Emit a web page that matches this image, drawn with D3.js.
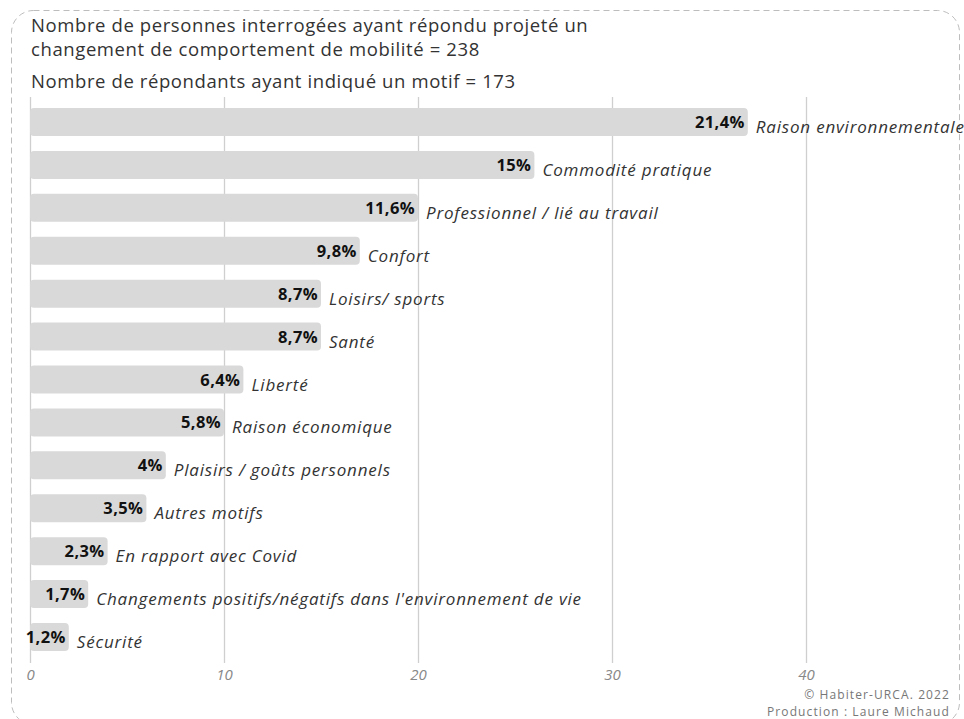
<!DOCTYPE html>
<html>
<head>
<meta charset="utf-8">
<script src="https://cdn.jsdelivr.net/npm/d3@7"></script>
<style>
  body { margin: 0; background: #fff; }
  svg { display: block; font-family: 'Open Sans', Lato, sans-serif; }
</style>
</head>
<body>
<div class="container"></div>
<script>
// motifs, du plus cité au moins cité
var categories = [
  'Raison environnementale',
  'Commodité pratique',
  'Professionnel / lié au travail',
  'Confort',
  'Loisirs/ sports',
  'Santé',
  'Liberté',
  'Raison économique',
  'Plaisirs / goûts personnels',
  'Autres motifs',
  'En rapport avec Covid',
  "Changements positifs/négatifs dans l'environnement de vie",
  'Sécurité'
];
// nombre de répondants par motif (sur 173)
var counts = [37, 26, 20, 17, 15, 15, 11, 10, 7, 6, 4, 3, 2];
var pctLabels = ['21,4%', '15%', '11,6%', '9,8%', '8,7%', '8,7%', '6,4%', '5,8%', '4%', '3,5%', '2,3%', '1,7%', '1,2%'];
var ticks = [0, 10, 20, 30, 40];
var titleLines = [
  'Nombre de personnes interrogées ayant répondu projeté un',
  'changement de comportement de mobilité = 238',
  'Nombre de répondants ayant indiqué un motif = 173'
];
var credits = ['© Habiter-URCA. 2022', 'Production : Laure Michaud'];

var width = 964, height = 719;

var svg = d3.select('.container')
  .append('svg')
  .attr('width', width)
  .attr('height', height);

// cadre en pointillés
svg.append('rect')
  .attr('x', 11.5)
  .attr('y', 10.5)
  .attr('width', 948)
  .attr('height', 714)
  .attr('rx', 22)
  .attr('fill', 'none')
  .attr('stroke', '#bdbdbd')
  .attr('stroke-dasharray', '6,4');

svg.selectAll('text.title')
  .data(titleLines)
  .enter()
  .append('text')
  .attr('class', 'title')
  .attr('x', 31)
  .attr('y', function (d, i) { return [32, 56, 88][i]; })
  .attr('fill', '#333')
  .style('font-size', '18.5px')
  .style('letter-spacing', '0.6px')
  .text(function (d) { return d; });

var x = d3.scaleLinear().domain([0, 40]).range([30, 806]);
var y = d3.scaleBand()
  .domain(categories)
  .range([108, 651])
  .paddingInner(0.347)
  .paddingOuter(0);

// grille verticale
svg.append('g')
  .selectAll('line')
  .data(ticks)
  .enter()
  .append('line')
  .attr('x1', function (d) { return x(d) + 0.5; })
  .attr('x2', function (d) { return x(d) + 0.5; })
  .attr('y1', 97)
  .attr('y2', 663)
  .attr('stroke', '#cfcfcf')
  .attr('stroke-width', 1.3);

var xAxis = svg.append('g')
  .attr('transform', 'translate(0,664)')
  .call(d3.axisBottom(x).tickValues(ticks).tickSize(0).tickPadding(5));
xAxis.select('.domain').remove();
xAxis.selectAll('text')
  .attr('fill', '#888')
  .style('font-size', '15px')
  .style('font-style', 'italic')
  .style('font-family', "'Open Sans', sans-serif");

var rows = svg.append('g')
  .selectAll('g.row')
  .data(categories)
  .enter()
  .append('g')
  .attr('class', 'row');

rows.append('rect')
  .attr('x', x(0))
  .attr('y', function (d) { return y(d); })
  .attr('width', function (d, i) { return x(counts[i]) - x(0); })
  .attr('height', y.bandwidth())
  .attr('rx', 4)
  .attr('fill', '#d9d9d9');

rows.append('text')
  .attr('x', function (d, i) { return x(counts[i]) - 3; })
  .attr('y', function (d) { return y(d) + y.bandwidth() / 2 + 6; })
  .attr('text-anchor', 'end')
  .attr('fill', '#111')
  .style('font-size', '16.5px')
  .style('font-weight', 'bold')
  .style('letter-spacing', '0.4px')
  .text(function (d, i) { return pctLabels[i]; });

rows.append('text')
  .attr('x', function (d, i) { return x(counts[i]) + 8; })
  .attr('y', function (d) { return y(d) + y.bandwidth() / 2 + 11; })
  .attr('fill', '#333')
  .style('font-size', '17px')
  .style('font-style', 'italic')
  .style('letter-spacing', '0.8px')
  .text(function (d) { return d; });

svg.selectAll('text.credit')
  .data(credits)
  .enter()
  .append('text')
  .attr('class', 'credit')
  .attr('x', 950)
  .attr('y', function (d, i) { return 699 + i * 16.5; })
  .attr('text-anchor', 'end')
  .attr('fill', '#777')
  .style('font-size', '12px')
  .style('letter-spacing', '1.1px')
  .text(function (d) { return d; });
</script>
</body>
</html>
